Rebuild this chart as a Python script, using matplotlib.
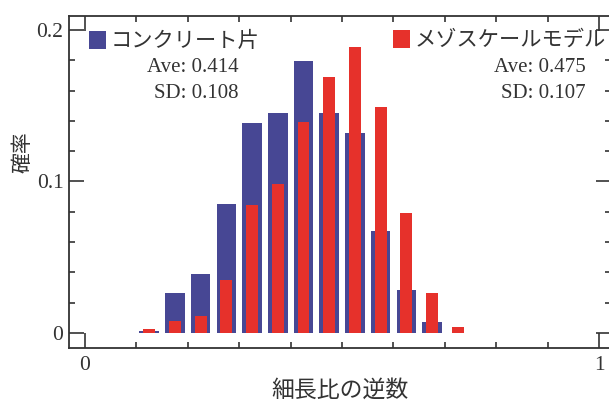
import matplotlib
matplotlib.use("Agg")
import matplotlib.pyplot as plt
import numpy as np

plt.rcParams['font.family'] = ['Liberation Serif', 'Noto Sans CJK JP']

# bin centres of the inverse slenderness ratio
bins = [0.125, 0.175, 0.225, 0.275, 0.325, 0.375, 0.425,
        0.475, 0.525, 0.575, 0.625, 0.675, 0.725]
concrete = [0.001, 0.0266, 0.039, 0.085, 0.1388, 0.145, 0.1797,
            0.145, 0.1322, 0.0675, 0.0284, 0.0075, 0.0]
mesoscale = [0.0025, 0.0081, 0.0114, 0.035, 0.0845, 0.0983, 0.1395,
             0.1692, 0.189, 0.1494, 0.079, 0.0262, 0.0042]

label_concrete = "コンクリート片"
label_meso = "メゾスケールモデル"
stats_concrete = ["Ave: 0.414", "SD: 0.108"]
stats_meso = ["Ave: 0.475", "SD: 0.107"]

blue = "#474794"
red = "#e6312b"
ink = "#333333"

W, H = 609, 401
fig = plt.figure(figsize=(W / 100, H / 100), dpi=100)
ax = fig.add_axes([69 / W, 1 - 348 / H, (611 - 69) / W, (348 - 16) / H])

b1 = ax.bar(bins, concrete, width=0.038, color=blue, label=label_concrete)
b2 = ax.bar(bins, mesoscale, width=0.023, color=red, label=label_meso)

ax.set_xlim(-0.031, 1.023)
ax.set_ylim(-0.0099, 0.2092)

ax.set_xticks([0, 1])
ax.set_xticks(np.arange(1, 10) / 10, minor=True)
ax.set_xticklabels(["0", "1"])
ax.set_yticks([0, 0.1, 0.2])
ax.set_yticks(np.arange(1, 10) / 50, minor=True)
ax.set_yticklabels(["0", "0.1", "0.2"])

ax.tick_params(which="both", direction="in", top=True, right=True,
               colors=ink, width=1.2, labelsize=15.5, labelcolor=ink)
ax.tick_params(which="major", length=11)
ax.tick_params(which="minor", length=4)
ax.tick_params(axis="x", pad=6)
ax.tick_params(axis="y", pad=4)
for s in ax.spines.values():
    s.set_color(ink)
    s.set_linewidth(1.3)

ax.set_xlabel("細長比の逆数", fontsize=16.5, color=ink, labelpad=3)
ax.set_ylabel("確率", fontsize=15, color=ink)
ax.yaxis.set_label_coords(-0.066, 0.59)

leg_kw = dict(loc="upper left", bbox_transform=fig.transFigure,
              frameon=False, borderpad=0, borderaxespad=0,
              handlelength=0.8, handleheight=0.9, handletextpad=0.2,
              fontsize=15.3, labelcolor=ink)
leg1 = ax.legend(handles=[b1], bbox_to_anchor=(89 / W, 1 - 31 / H), **leg_kw)
ax.add_artist(leg1)
ax.legend(handles=[b2], bbox_to_anchor=(393 / W, 1 - 30 / H), **leg_kw)

for x_px, lines in [(239, stats_concrete), (586, stats_meso)]:
    for y_px, txt in zip([67, 93], lines):
        fig.text(x_px / W, 1 - y_px / H, txt, ha="right", va="center",
                 fontsize=15, color=ink)

fig.savefig("out.png", dpi=100)
